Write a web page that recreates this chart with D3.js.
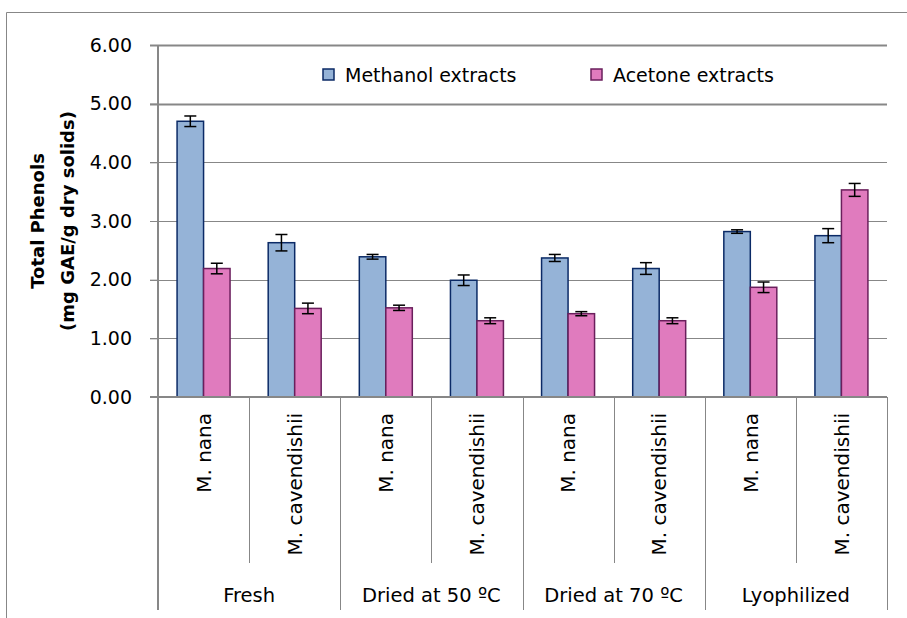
<!DOCTYPE html>
<html>
<head>
<meta charset="utf-8">
<script src="https://cdn.jsdelivr.net/npm/d3@7"></script>
<style>
  body { margin: 0; background: #fff; }
  svg text { font-family: "DejaVu Sans", "Liberation Sans", sans-serif; fill: #000; }
</style>
</head>
<body>
<div id="main-container"></div>
<script>
// DATA
const groups = ["Fresh", "Dried at 50 ºC", "Dried at 70 ºC", "Lyophilized"];
const species = ["M. nana", "M. cavendishii"];
const seriesNames = ["Methanol extracts", "Acetone extracts"];
const methanol = [4.70, 2.63, 2.39, 1.99, 2.37, 2.19, 2.82, 2.75];
const methanolErr = [0.09, 0.14, 0.04, 0.09, 0.06, 0.10, 0.03, 0.12];
const acetone = [2.19, 1.51, 1.52, 1.30, 1.42, 1.30, 1.87, 3.53];
const acetoneErr = [0.09, 0.09, 0.045, 0.05, 0.035, 0.05, 0.09, 0.11];
const yTicks = [0, 1, 2, 3, 4, 5, 6];

// CONSTANTS
const width = 907, height = 618;
const plot = {left: 158, right: 887, top: 45, bottom: 397};
const fills = ["#95b3d7", "#e07bbe"];
const strokes = ["#0b2a66", "#6a1f5c"];
const grey = "#878787";
const font = "'DejaVu Sans', sans-serif";

const cats = d3.range(groups.length * species.length);
const data = cats.map((i) => ({
    i: i,
    group: groups[Math.floor(i / species.length)],
    species: species[i % species.length],
    vals: [
        {s: 0, v: methanol[i], e: methanolErr[i]},
        {s: 1, v: acetone[i], e: acetoneErr[i]}
    ]
}));

let svg = d3.select("#main-container")
    .append("svg")
        .attr("width", width)
        .attr("height", height);

// outer frame
svg.append("path")
    .attr("d", `M6.5,${height} V12.5 H${width}`)
    .attr("fill", "none")
    .attr("stroke", grey)
    .attr("stroke-width", 1);

let xAxis = d3.scaleBand()
    .domain(cats)
    .range([plot.left, plot.right]);

let xSub = d3.scaleBand()
    .domain([0, 1])
    .range([0, xAxis.bandwidth()])
    .paddingOuter(0.72);

let xGroup = d3.scaleBand()
    .domain(groups)
    .range([plot.left, plot.right]);

let yAxis = d3.scaleLinear()
    .domain([0, 6])
    .range([plot.bottom, plot.top]);

// gridlines
svg.append("g")
    .selectAll("line")
    .data(yTicks.filter((d) => d > 0))
    .enter()
    .append("line")
        .attr("x1", plot.left - 8)
        .attr("x2", plot.right)
        .attr("y1", (d) => Math.round(yAxis(d)) + 0.5)
        .attr("y2", (d) => Math.round(yAxis(d)) + 0.5)
        .attr("stroke", grey)
        .attr("stroke-width", (d) => d >= 5 ? 2 : 1);

// y axis
let yG = svg.append("g")
    .attr("id", "y-axis")
    .attr("transform", `translate(${plot.left}, 0)`)
    .call(d3.axisLeft(yAxis).tickValues(yTicks).tickFormat(d3.format(".2f")).tickSize(8).tickPadding(18));
yG.select(".domain").remove();
yG.selectAll(".tick line").attr("stroke", grey);
yG.selectAll(".tick text")
    .style("font-family", font)
    .style("font-size", "19px")
    .attr("fill", "#000");
yG.append("line")
    .attr("x1", 0).attr("x2", 0)
    .attr("y1", plot.top).attr("y2", 610)
    .attr("stroke", grey)
    .attr("stroke-width", 2);

// bars
let catG = svg.append("g")
    .selectAll("g")
    .data(data)
    .enter()
    .append("g")
        .attr("transform", (d) => `translate(${xAxis(d.i)}, 0)`);

catG.selectAll("rect")
    .data((d) => d.vals)
    .enter()
    .append("rect")
        .attr("x", (d) => xSub(d.s))
        .attr("y", (d) => yAxis(d.v))
        .attr("width", xSub.bandwidth())
        .attr("height", (d) => plot.bottom - yAxis(d.v))
        .attr("fill", (d) => fills[d.s])
        .attr("stroke", (d) => strokes[d.s])
        .attr("stroke-width", 1.5);

// error bars
let err = catG.selectAll(".err")
    .data((d) => d.vals)
    .enter()
    .append("g")
        .attr("class", "err")
        .attr("transform", (d) => `translate(${xSub(d.s) + xSub.bandwidth() / 2}, 0)`)
        .attr("stroke", "#000")
        .attr("stroke-width", 1.5);
err.append("line")
    .attr("y1", (d) => yAxis(d.v + d.e))
    .attr("y2", (d) => yAxis(d.v - d.e));
err.append("line")
    .attr("x1", -6).attr("x2", 6)
    .attr("y1", (d) => yAxis(d.v + d.e))
    .attr("y2", (d) => yAxis(d.v + d.e));
err.append("line")
    .attr("x1", -6).attr("x2", 6)
    .attr("y1", (d) => yAxis(d.v - d.e))
    .attr("y2", (d) => yAxis(d.v - d.e));

// x axis line
svg.append("line")
    .attr("x1", plot.left - 8).attr("x2", plot.right)
    .attr("y1", plot.bottom).attr("y2", plot.bottom)
    .attr("stroke", grey)
    .attr("stroke-width", 2);

// separators between species and between groups
svg.append("g")
    .selectAll("line")
    .data(cats.slice(1).concat([cats.length]))
    .enter()
    .append("line")
        .attr("x1", (d) => Math.round(plot.left + d * xAxis.step()) + 0.5)
        .attr("x2", (d) => Math.round(plot.left + d * xAxis.step()) + 0.5)
        .attr("y1", plot.bottom)
        .attr("y2", (d) => d % species.length === 0 ? 610 : 563)
        .attr("stroke", grey)
        .attr("stroke-width", 1);

// species labels
svg.append("g")
    .selectAll("text")
    .data(data)
    .enter()
    .append("text")
        .attr("transform", (d) => `translate(${xAxis(d.i) + xAxis.bandwidth() / 2}, 413) rotate(-90)`)
        .attr("text-anchor", "end")
        .attr("dy", "0.36em")
        .style("font-size", "20px")
        .text((d) => d.species);

// group labels
svg.append("g")
    .selectAll("text")
    .data(groups)
    .enter()
    .append("text")
        .attr("x", (d) => xGroup(d) + xGroup.bandwidth() / 2)
        .attr("y", 602)
        .attr("text-anchor", "middle")
        .style("font-size", "19.5px")
        .text((d) => d);

// y title
let yt = svg.append("g")
    .attr("transform", "translate(0, 221)")
    .style("font-weight", "bold")
    .style("font-size", "18px");
yt.append("text")
    .attr("transform", "translate(38, 0) rotate(-90)")
    .attr("text-anchor", "middle")
    .attr("dy", "0.35em")
    .text("Total Phenols");
yt.append("text")
    .attr("transform", "translate(68, 0) rotate(-90)")
    .attr("text-anchor", "middle")
    .attr("dy", "0.35em")
    .text("(mg GAE/g dry solids)");

// legend
let legend = svg.append("g")
    .selectAll("g")
    .data(seriesNames)
    .enter()
    .append("g")
        .attr("transform", (d, i) => `translate(${[323, 591][i]}, 69)`);
legend.append("rect")
    .attr("width", 11).attr("height", 11)
    .attr("fill", (d, i) => fills[i])
    .attr("stroke", (d, i) => strokes[i])
    .attr("stroke-width", 1.5);
legend.append("text")
    .attr("x", 22)
    .attr("y", 13)
    .style("font-size", "19px")
    .text((d) => d);
</script>
</body>
</html>
